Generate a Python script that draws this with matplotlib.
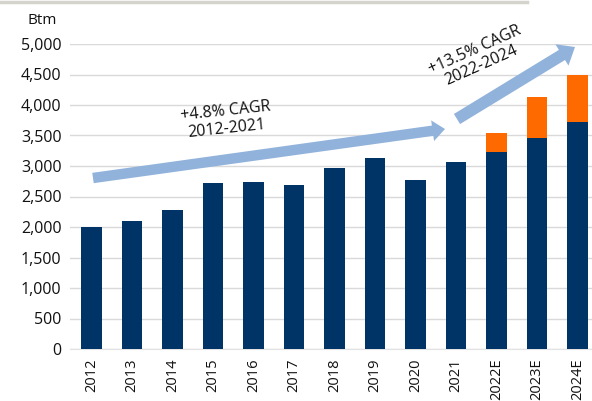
import matplotlib
matplotlib.use("Agg")
import matplotlib.pyplot as plt
from matplotlib.patches import FancyArrowPatch
from matplotlib.lines import Line2D

plt.rcParams['font.family'] = ['Open Sans', 'DejaVu Sans']

years = ['2012', '2013', '2014', '2015', '2016', '2017', '2018', '2019', '2020',
         '2021', '2022E', '2023E', '2024E']
base = [2005, 2100, 2285, 2720, 2745, 2690, 2965, 3130, 2770, 3060, 3235, 3455, 3715]
extra = [0, 0, 0, 0, 0, 0, 0, 0, 0, 0, 310, 670, 770]
yticks = [0, 500, 1000, 1500, 2000, 2500, 3000, 3500, 4000, 4500, 5000]

NAVY = '#003466'
ORANGE = '#FF6A00'
ARROW = '#91B2DA'
TXT = '#111111'

W, H = 592, 401
fig = plt.figure(figsize=(W / 100, H / 100), dpi=100)
ax = fig.add_axes([70 / W, (H - 349) / H, (592 - 70) / W, (349 - 44) / H])

x = list(range(len(years)))
ax.bar(x, base, width=0.5, color=NAVY, zorder=3)
ax.bar(x, extra, width=0.5, bottom=base, color=ORANGE, zorder=3)

ax.set_ylim(0, 5000)
ax.set_xlim(-0.53, 12.36)
ax.set_yticks(yticks)
ax.set_yticklabels([f'{v:,}' for v in yticks], fontsize=11.5, color=TXT)
ax.set_xticks(x)
ax.set_xticklabels(years, rotation=90, fontsize=10.5, color=TXT)
ax.tick_params(length=0, pad=6)
ax.tick_params(axis='x', pad=7)
ax.grid(axis='y', color='#d9d9d9', linewidth=1, zorder=0)
for s in ['left', 'right', 'top']:
    ax.spines[s].set_visible(False)
ax.spines['bottom'].set_color('#e3e3e3')

fig.text(42 / W, 1 - 20 / H, 'Btm', fontsize=11, ha='center', va='center', color=TXT)

# top border line
fig.add_artist(Line2D([0, 527 / W], [1 - 1.5 / H, 1 - 1.5 / H], transform=fig.transFigure,
                      color='#d4d4cc', linewidth=2.5))

def fig_arrow(p0, p1, tail, hw, hl):
    a = FancyArrowPatch((p0[0], H - p0[1]), (p1[0], H - p1[1]),
                        transform=None,
                        arrowstyle=f'simple,tail_width={tail},head_width={hw},head_length={hl}',
                        mutation_scale=1, color=ARROW, lw=0, zorder=5,
                        shrinkA=0, shrinkB=0)
    fig.add_artist(a)

fig_arrow((93, 178), (445, 129), 7.5, 15, 9)
fig_arrow((457, 119), (575, 47), 8.5, 18, 11)

fig.text(226 / W, 1 - 120 / H, '+4.8% CAGR\n2012-2021', fontsize=11.5, ha='center', va='center',
         rotation=6, rotation_mode='anchor', linespacing=1.1, color=TXT)
fig.text(478 / W, 1 - 58 / H, '+13.5% CAGR\n2022-2024', fontsize=11.5, ha='center', va='center',
         rotation=24, rotation_mode='anchor', linespacing=1.1, color=TXT)

fig.savefig('out.png', dpi=100)
